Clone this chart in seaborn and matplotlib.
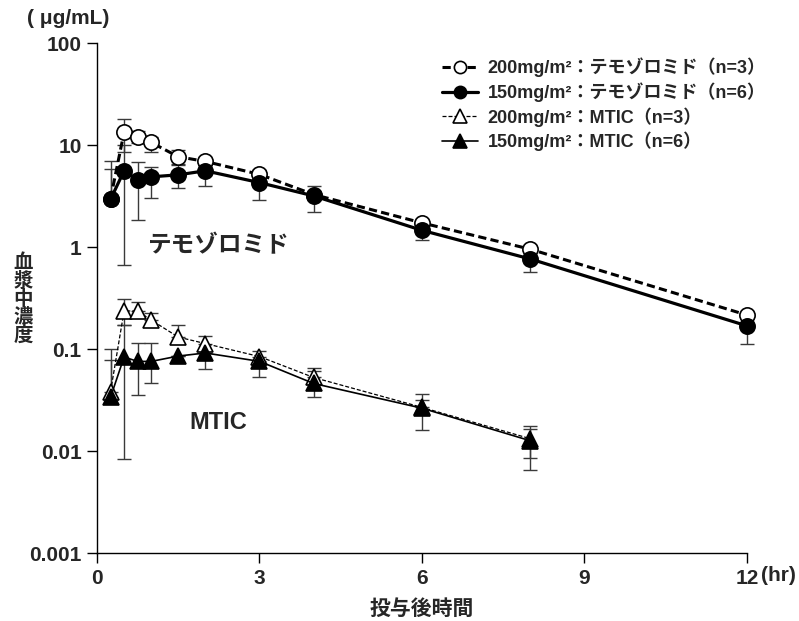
import matplotlib
matplotlib.use("Agg")
import matplotlib.pyplot as plt
import seaborn as sns
import numpy as np
import pandas as pd

sns.set_theme(style="ticks")
plt.rcParams['font.family'] = ['Liberation Sans', 'Noto Sans CJK JP', 'DejaVu Sans']
plt.rcParams['font.weight'] = 'bold'

# Time points (hr)
t_tmz = [0.25, 0.5, 0.75, 1, 1.5, 2, 3, 4, 6, 8, 12]
t_mtic = [0.25, 0.5, 0.75, 1, 1.5, 2, 3, 4, 6, 8]

# Temozolomide 200 mg/m2 (n=3), mean and error-bar ends
tmz200 = [3.0, 13.5, 12.2, 10.7, 7.75, 6.97, 5.2, 3.3, 1.74, 0.96, 0.217]
tmz200_hi = [7.0, 18.0, 14.0, 12.0, 9.1, 6.97, 5.2, 3.3, 1.74, 0.96, 0.217]
tmz200_lo = [3.0, 8.55, 10.5, 8.55, 6.6, 6.97, 5.2, 3.3, 1.74, 0.96, 0.217]

# Temozolomide 150 mg/m2 (n=6)
tmz150 = [2.96, 5.64, 4.6, 4.92, 5.15, 5.64, 4.32, 3.2, 1.47, 0.77, 0.17]
tmz150_hi = [5.86, 10.0, 6.92, 6.2, 6.5, 6.5, 5.7, 4.0, 1.47, 0.77, 0.17]
tmz150_lo = [2.96, 0.676, 1.84, 3.07, 3.8, 4.0, 2.92, 2.24, 1.17, 0.58, 0.114]

# MTIC 200 mg/m2 (n=3)
mtic200 = [0.0385, 0.238, 0.238, 0.194, 0.132, 0.114, 0.085, 0.053, 0.027, 0.0133]
mtic200_hi = [0.1016, 0.312, 0.294, 0.225, 0.173, 0.135, 0.0957, 0.0652, 0.0366, 0.0177]
mtic200_lo = [0.0385, 0.173, 0.238, 0.194, 0.132, 0.114, 0.085, 0.053, 0.027, 0.0087]

# MTIC 150 mg/m2 (n=6)
mtic150 = [0.0339, 0.0841, 0.0762, 0.0762, 0.086, 0.0922, 0.0763, 0.0463, 0.0265, 0.0127]
mtic150_hi = [0.078, 0.173, 0.116, 0.116, 0.086, 0.0922, 0.0763, 0.0614, 0.032, 0.0166]
mtic150_lo = [0.0339, 0.0085, 0.0357, 0.0469, 0.086, 0.0645, 0.0534, 0.0345, 0.0163, 0.0066]

series = [
    ("200mg/m²：テモゾロミド（n=3）", t_tmz, tmz200, tmz200_lo, tmz200_hi,
     dict(marker='o', mfc='white', ls=(0, (2.7, 1.4)), lw=2.2, ms=11)),
    ("150mg/m²：テモゾロミド（n=6）", t_tmz, tmz150, tmz150_lo, tmz150_hi,
     dict(marker='o', mfc='black', ls='-', lw=2.3, ms=11)),
    ("200mg/m²：MTIC（n=3）", t_mtic, mtic200, mtic200_lo, mtic200_hi,
     dict(marker='^', mfc='white', ls=(0, (3.2, 1.6)), lw=0.9, ms=12)),
    ("150mg/m²：MTIC（n=6）", t_mtic, mtic150, mtic150_lo, mtic150_hi,
     dict(marker='^', mfc='black', ls='-', lw=1.2, ms=12)),
]

fig = plt.figure(figsize=(7.99, 6.21), dpi=100)
ax = fig.add_axes([0.1214, 0.109, 0.8135, 0.821])

# Error bars first, drawn below the markers
for label, t, y, lo, hi, st in series:
    y = np.array(y)
    yerr = [y - np.array(lo), np.array(hi) - y]
    ax.errorbar(t, y, yerr=yerr, fmt='none', ecolor='#3a3a3a', elinewidth=1.0,
                capsize=5, capthick=1.0, zorder=1, clip_on=False)

for label, t, y, lo, hi, st in series:
    df = pd.DataFrame({'time': t, 'conc': y})
    sns.lineplot(data=df, x='time', y='conc', ax=ax, color='black',
                 marker=st['marker'], markersize=st['ms'],
                 markerfacecolor=st['mfc'], markeredgecolor='black',
                 markeredgewidth=1.2, linestyle=st['ls'], linewidth=st['lw'],
                 label=label, zorder=3, clip_on=False)

ax.set_yscale('log')
ax.set_ylim(0.001, 100)
ax.set_xlim(0, 12)
ax.set_xticks([0, 3, 6, 9, 12])
ax.set_xticklabels(['0', '3', '6', '9', '12'])
ax.set_yticks([0.001, 0.01, 0.1, 1, 10, 100])
ax.set_yticklabels(['0.001', '0.01', '0.1', '1', '10', '100'])
ax.minorticks_off()
ax.tick_params(axis='both', which='major', direction='out', length=7.5, width=1,
               color='black', labelsize=15, pad=3.5)
for lab in ax.get_xticklabels() + ax.get_yticklabels():
    lab.set_fontweight('bold')
for side in ['top', 'right']:
    ax.spines[side].set_visible(False)
for side in ['left', 'bottom']:
    ax.spines[side].set_color('black')
    ax.spines[side].set_linewidth(1.0)

ax.set_xlabel('投与後時間', fontsize=15, fontweight='bold', labelpad=8)
ax.set_ylabel('')

fig.text(0.953, 0.0725, '(hr)', fontsize=15, fontweight='bold', va='center', ha='left')
fig.text(0.034, 0.971, '( μg/mL)', fontsize=15, fontweight='bold', va='center', ha='left')
fig.text(0.029, 0.517, '\n'.join('血漿中濃度'), fontsize=14, fontweight='bold',
         va='center', ha='center', linespacing=0.95)

ax.text(0.95, 1.03, 'テモゾロミド', fontsize=17, fontweight='bold', va='center', ha='left')
ax.text(1.70, 0.019, 'MTIC', fontsize=17, fontweight='bold', va='center', ha='left')

leg = ax.legend(loc='upper right', bbox_to_anchor=(0.958, 0.907), bbox_transform=fig.transFigure,
                frameon=False, handlelength=2.0, handletextpad=0.5, labelspacing=0.28,
                borderpad=0, borderaxespad=0, markerscale=0.8,
                prop={'size': 13, 'weight': 'bold'})

fig.savefig('out.png', dpi=100, facecolor='white')
